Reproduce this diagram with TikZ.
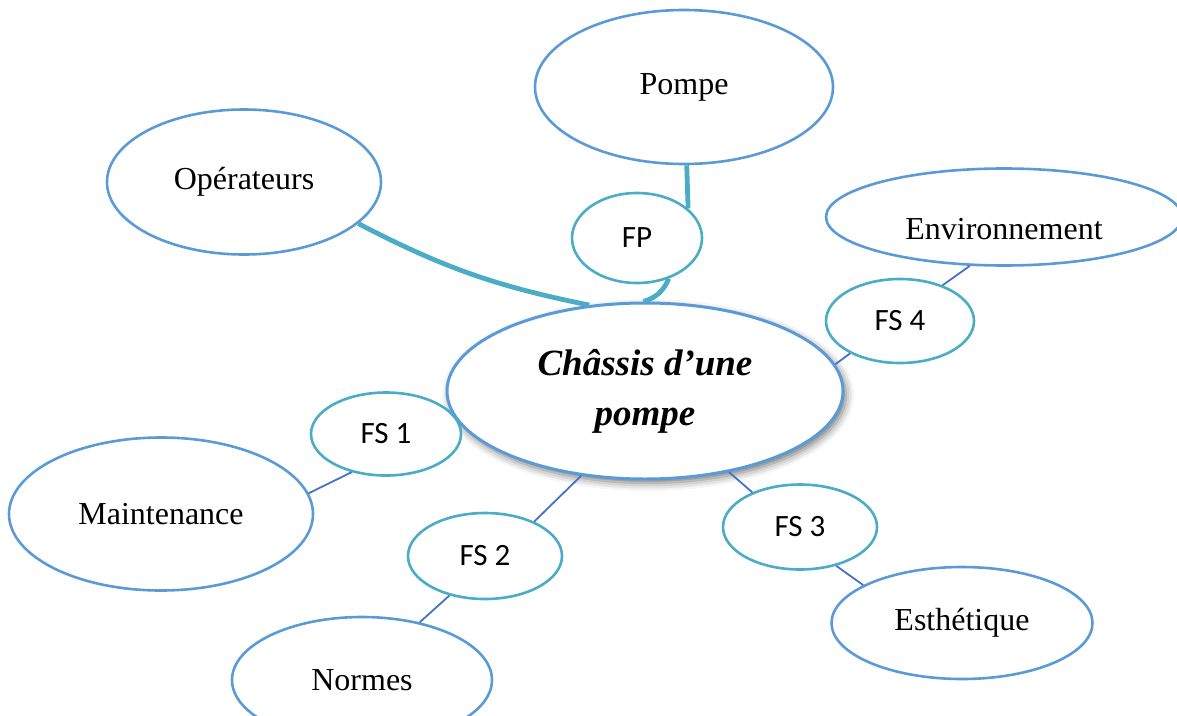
\documentclass[tikz,border=0pt]{standalone}
\usepackage{fontspec}
\setmainfont{Liberation Serif}
\newfontfamily\fslabelfont{Carlito}
\usetikzlibrary{shapes.geometric,shadows.blur}
\definecolor{outerblue}{HTML}{5B9BD5}
\definecolor{fsteal}{HTML}{4BACC6}
\definecolor{linkblue}{HTML}{4472C4}

\begin{document}
\begin{tikzpicture}[x=1pt,y=-1pt,
  outer/.style={ellipse, draw=outerblue, line width=2.6pt, fill=white, inner sep=0pt,
    font=\fontsize{32}{38}\selectfont},
  fsnode/.style={ellipse, draw=fsteal, line width=2.6pt, fill=white, inner sep=0pt,
    font=\fslabelfont\fontsize{31}{36}\selectfont},
  mainlink/.style={draw=fsteal, line width=4.8pt},
  sublink/.style={draw=linkblue, line width=1.8pt}
]
\useasboundingbox (0,0) rectangle (1177,715);
\clip (0,0) rectangle (1177,715);

% central function
\node[ellipse, draw=outerblue, line width=3pt, fill=white, inner sep=0pt,
      minimum width=396pt, minimum height=176pt, align=center,
      font=\fontsize{37}{50}\selectfont\bfseries\itshape,
      blur shadow={shadow xshift=3pt, shadow yshift=-4pt, shadow blur radius=8pt, shadow opacity=55}]
      (chassis) at (645,391) {Châssis d’une\\pompe};

% surrounding elements
\node[outer, minimum width=298pt, minimum height=154pt] (pompe) at (684,87) {Pompe};
\node[outer, minimum width=274pt, minimum height=145pt] (oper) at (244,182) {Opérateurs};
\node[outer, minimum width=356pt, minimum height=97pt] (env) at (1004,217) {};
\node[font=\fontsize{32}{38}\selectfont] (envtext) at (1004,229) {Environnement};
\node[outer, minimum width=304pt, minimum height=153pt] (maint) at (161,514) {Maintenance};
\node[outer, minimum width=260pt, minimum height=126pt] (normes) at (362,680) {Normes};
\node[outer, minimum width=261pt, minimum height=112pt] (esth) at (962,623) {Esthétique};

% functions
\node[fsnode, minimum width=130pt, minimum height=90pt] (fp) at (637,238) {FP};
\node[fsnode, minimum width=150pt, minimum height=83pt] (fs1) at (386,434) {FS 1};
\node[fsnode, minimum width=154pt, minimum height=86pt] (fs2) at (485,556) {FS 2};
\node[fsnode, minimum width=154pt, minimum height=85pt] (fs3) at (800,527) {FS 3};
\node[fsnode, minimum width=148pt, minimum height=84pt] (fs4) at (900,321) {FS 4};

% principal function links
\draw[mainlink] (oper.340) to[bend right=8] (chassis.123);
\draw[mainlink] (pompe.272) -- (fp.30);
\draw[mainlink] (fp.308) to[bend left=25] (chassis.91);

% secondary function links
\draw[sublink] (fs1.228) -- (maint.8);
\draw[sublink] (fs2.35) -- (chassis.233);
\draw[sublink] (fs2.228) -- (normes.45);
\draw[sublink] (fs3.144) -- (chassis.316);
\draw[sublink] (fs3.313) -- (esth.159);
\draw[sublink] (fs4.213) -- (chassis.8);
\draw[sublink] (fs4.40) -- (env.235);
\end{tikzpicture}
\end{document}
